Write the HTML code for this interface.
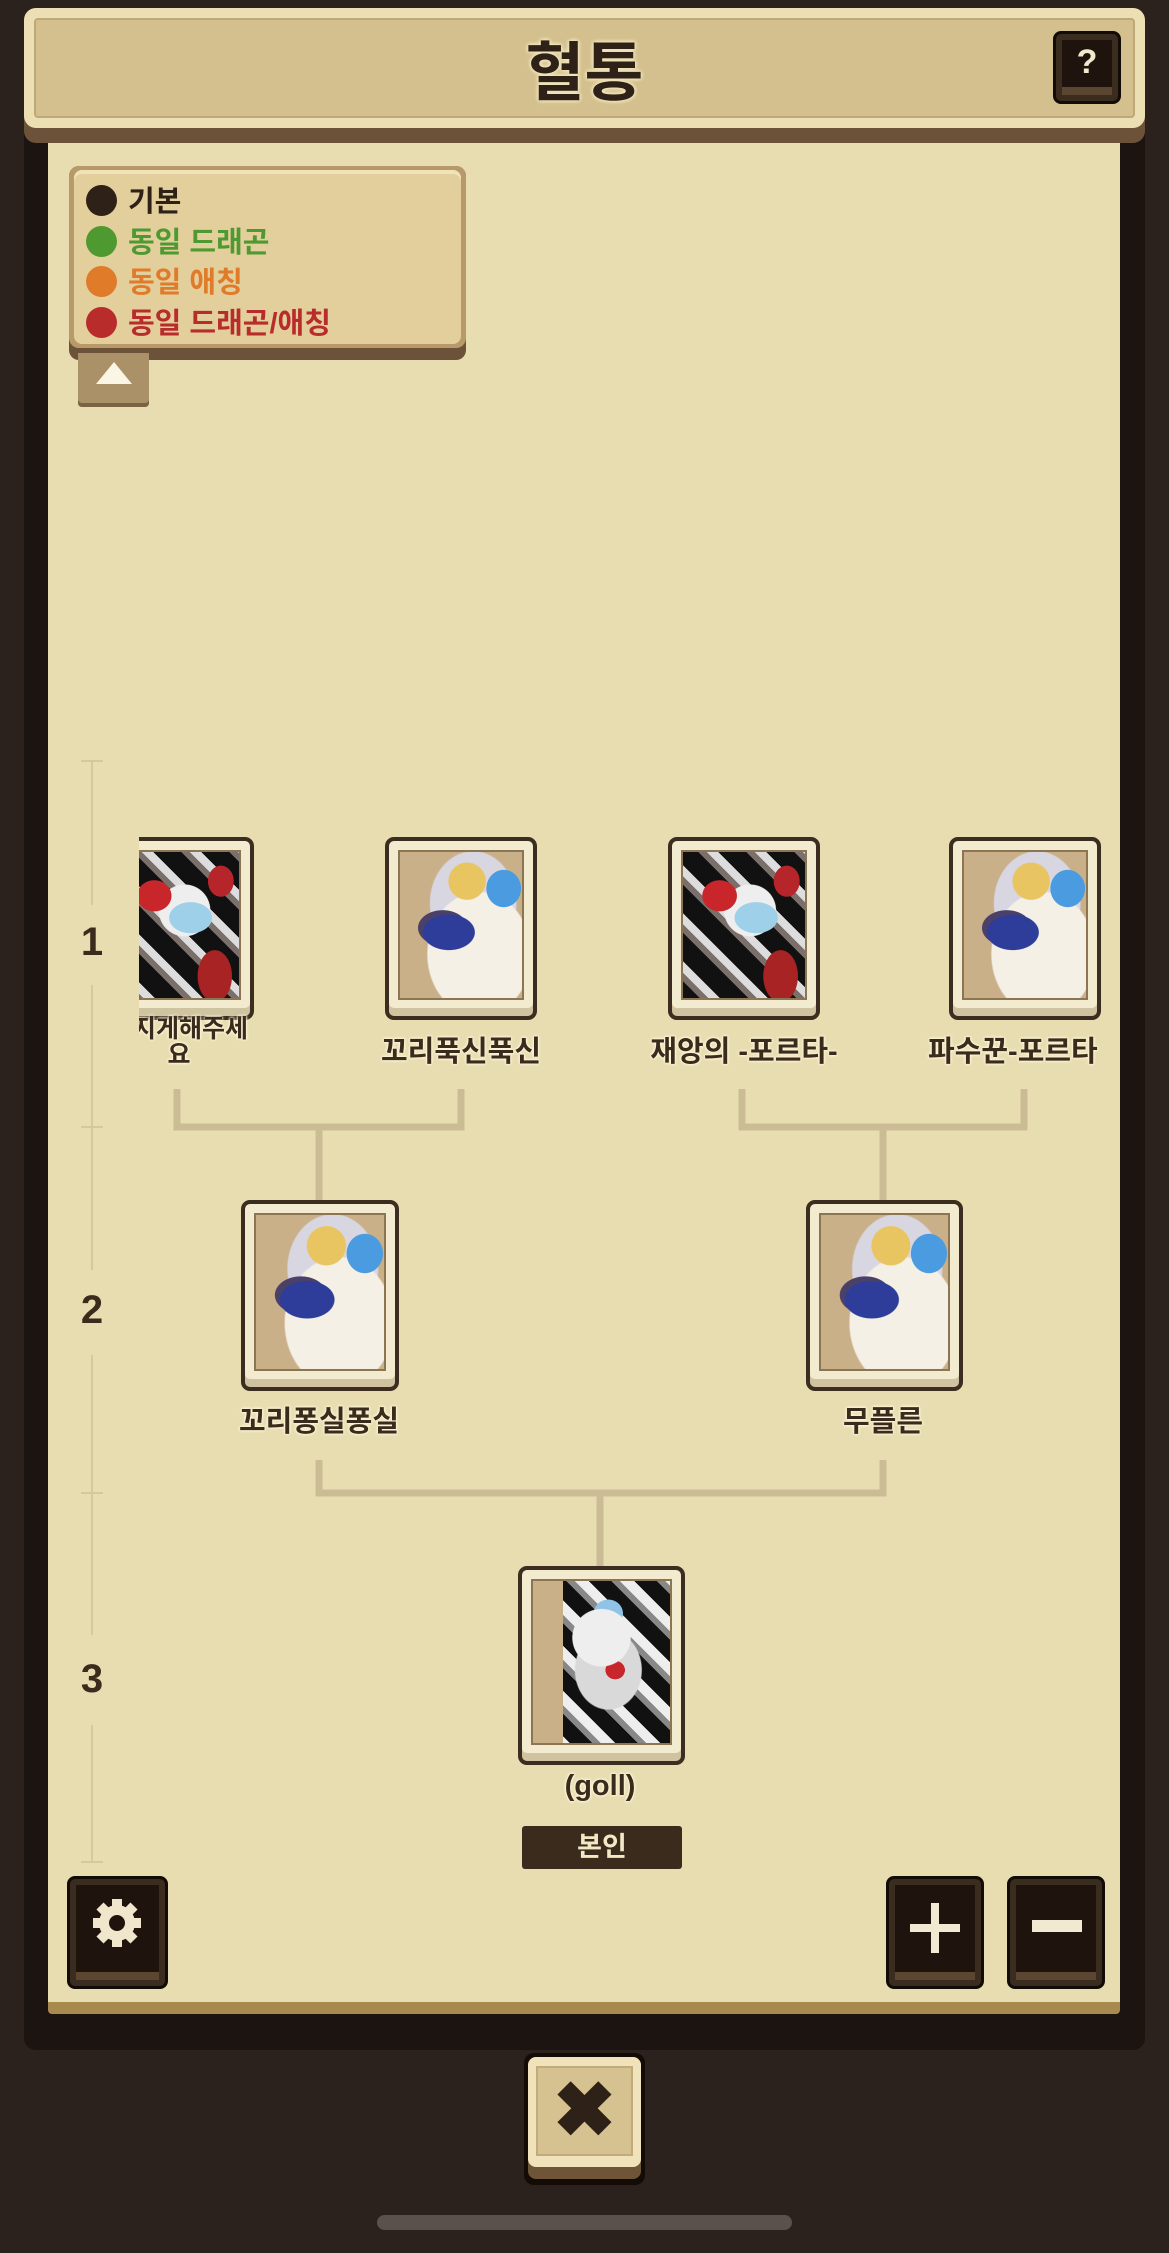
<!DOCTYPE html>
<html><head><meta charset="utf-8"><style>
*{margin:0;padding:0;box-sizing:border-box}
body{width:1169px;height:2253px;background:#2b211d;position:relative;overflow:hidden;font-family:"Liberation Sans","Noto Sans CJK KR",sans-serif}
.a{position:absolute}
.card{position:absolute;background:#f3ebcf;border:4px solid #3b2d1f;border-radius:9px;box-shadow:inset 0 -8px 0 #cfc3a0}
.card .img{position:absolute;left:9px;top:9px;right:9px;bottom:16px;background-color:#c9b089;border:2px solid #8c7552;overflow:hidden}
.lbl{position:absolute;font-weight:bold;color:#3a2b1d;text-align:center;font-size:29px;white-space:nowrap;text-shadow:0 0 3px #fff6da,0 0 3px #fff6da,0 0 2px #fff6da}
.card .img.light{background:
radial-gradient(ellipse 35% 20% at 40% 55%,#2f3d9a 0 60%,transparent 62%),
radial-gradient(ellipse 25% 15% at 35% 52%,#4a4068 0 80%,transparent 82%),
radial-gradient(ellipse 30% 25% at 55% 20%,#e8c560 0 50%,transparent 52%),
radial-gradient(ellipse 20% 18% at 85% 25%,#4a9be0 0 70%,transparent 72%),
radial-gradient(ellipse 60% 60% at 65% 70%,#f5f0e6 0 70%,transparent 72%),
radial-gradient(ellipse 50% 50% at 60% 35%,#d8d6e0 0 70%,transparent 72%),#c9b089}
.card .img.dark{background:
radial-gradient(ellipse 20% 15% at 30% 30%,#c8262a 0 70%,transparent 72%),
radial-gradient(ellipse 15% 15% at 85% 20%,#b5252a 0 70%,transparent 72%),
radial-gradient(ellipse 25% 15% at 60% 45%,#9fd0ea 0 70%,transparent 72%),
radial-gradient(ellipse 30% 25% at 55% 40%,#eeeeee 0 70%,transparent 72%),
radial-gradient(ellipse 20% 25% at 80% 85%,#a82424 0 70%,transparent 72%),
repeating-linear-gradient(45deg,#111 0 12px,#7a6f6a 12px 18px,#ddd 18px 26px,#111 26px 34px)}
.card .img.me{background:
radial-gradient(ellipse 30% 25% at 50% 35%,#eeeeee 0 70%,transparent 72%),
radial-gradient(ellipse 15% 12% at 55% 20%,#8fc4e6 0 70%,transparent 72%),
radial-gradient(ellipse 10% 8% at 60% 55%,#c8262a 0 70%,transparent 72%),
radial-gradient(ellipse 40% 40% at 55% 55%,#d9d9d9 0 60%,transparent 62%),
repeating-linear-gradient(45deg,#111 0 10px,#888 10px 16px,#eee 16px 26px,#111 26px 32px)}
.card .img.me::before{content:"";position:absolute;left:0;top:0;width:22%;height:100%;background:#c9b089}
.btn{position:absolute;background:#1e140d;border:3px solid #120b06;border-radius:8px;box-shadow:inset 0 0 0 6px #3a2c1f,inset 0 -14px 0 #5a4631}
</style></head><body>
<div class="a" style="left:24px;top:10px;width:1121px;height:2040px;background:#1c1410;border-radius:12px"></div>
<div class="a" style="left:48px;top:140px;width:1072px;height:1874px;background:#a88a4e;border-radius:4px"></div>
<div class="a" style="left:48px;top:140px;width:1072px;height:1862px;background:#e8ddb1"></div>
<div class="a" style="left:24px;top:8px;width:1121px;height:135px;background:#6b5238;border-radius:12px"></div>
<div class="a" style="left:24px;top:8px;width:1121px;height:120px;background:#ecdfb4;border-radius:12px"></div>
<div class="a" style="left:34px;top:18px;width:1101px;height:100px;background:#d3c08e;border:2px solid #bfa877;border-radius:4px"></div>
<div class="a" style="left:0;top:22px;width:1169px;text-align:center;font-size:64px;font-weight:bold;color:#2e2117;text-shadow:0 0 4px #f3e6bd,0 0 4px #f3e6bd,0 0 4px #f3e6bd">혈통</div>
<div class="btn" style="left:1053px;top:31px;width:68px;height:73px;text-align:center;color:#f2e8cd;font-size:34px;font-weight:bold;line-height:56px">?</div>
<div class="a" style="left:69px;top:166px;width:397px;height:194px;background:#6b5238;border-radius:10px"></div>
<div class="a" style="left:69px;top:166px;width:397px;height:182px;background:#b89a6a;border-radius:10px"></div>
<div class="a" style="left:74px;top:170px;width:387px;height:174px;background:#e2cf9c;border-radius:8px;box-shadow:inset 0 4px 0 #f0e2b9"></div>
<div class="a" style="left:78px;top:353px;width:71px;height:54px;background:#ab9168;border-radius:0 0 4px 4px;box-shadow:inset 0 -4px 0 #7a6244"></div>
<div class="a" style="left:96px;top:362px;width:0;height:0;border-left:18px solid transparent;border-right:18px solid transparent;border-bottom:22px solid #fbf5e6"></div>
<div class="a" style="left:86px;top:182px;font-size:29px;font-weight:bold;line-height:40.5px">
<div style="color:#2e2117"><span style="display:inline-block;width:31px;height:31px;border-radius:50%;background:#2e2117;vertical-align:-5px;margin-right:11px"></span>기본</div>
<div style="color:#4f9a30"><span style="display:inline-block;width:31px;height:31px;border-radius:50%;background:#4f9a30;vertical-align:-5px;margin-right:11px"></span>동일 드래곤</div>
<div style="color:#e07b2a"><span style="display:inline-block;width:31px;height:31px;border-radius:50%;background:#e07b2a;vertical-align:-5px;margin-right:11px"></span>동일 애칭</div>
<div style="color:#b92c2c"><span style="display:inline-block;width:31px;height:31px;border-radius:50%;background:#b92c2c;vertical-align:-5px;margin-right:11px"></span>동일 드래곤/애칭</div>
</div>
<svg class="a" style="left:0;top:0" width="1169" height="2253">
<g stroke="#d6c89e" stroke-width="2" fill="none">
<line x1="92" y1="761" x2="92" y2="905"/><line x1="92" y1="985" x2="92" y2="1270"/><line x1="92" y1="1355" x2="92" y2="1635"/><line x1="92" y1="1725" x2="92" y2="1862"/>
<line x1="81" y1="761" x2="103" y2="761"/><line x1="81" y1="1127" x2="103" y2="1127"/><line x1="81" y1="1493" x2="103" y2="1493"/><line x1="81" y1="1862" x2="103" y2="1862"/>
</g>
<g stroke="#cbbc95" stroke-width="7" fill="none">
<path d="M177 1089V1127H461V1089M319 1127V1200"/>
<path d="M742 1089V1127H1024V1089M883 1127V1200"/>
<path d="M319 1460V1493H883V1460M600 1493V1566"/>
</g>
</svg>
<div class="a" style="left:72px;top:920px;width:40px;text-align:center;font-size:40px;font-weight:bold;color:#3a2b1d">1</div>
<div class="a" style="left:72px;top:1288px;width:40px;text-align:center;font-size:40px;font-weight:bold;color:#3a2b1d">2</div>
<div class="a" style="left:72px;top:1657px;width:40px;text-align:center;font-size:40px;font-weight:bold;color:#3a2b1d">3</div>
<div class="a" style="left:139px;top:830px;width:130px;height:200px;overflow:hidden">
<div class="card" style="left:-36px;top:7px;width:151px;height:183px"><div class="img dark"></div></div></div>
<div class="a" style="left:139px;top:1010px;width:140px;height:70px;overflow:hidden">
<div class="lbl" style="left:-40px;top:6px;width:160px;font-size:25px;line-height:26px">관지게해주세<br>요</div></div>
<div class="card" style="left:385px;top:837px;width:152px;height:183px"><div class="img light"></div></div>
<div class="lbl" style="left:311px;top:1028px;width:300px">꼬리푹신푹신</div>
<div class="card" style="left:668px;top:837px;width:152px;height:183px"><div class="img dark"></div></div>
<div class="lbl" style="left:594px;top:1028px;width:300px">재앙의 -포르타-</div>
<div class="card" style="left:949px;top:837px;width:152px;height:183px"><div class="img light"></div></div>
<div class="a" style="left:910px;top:1020px;width:191px;height:50px;overflow:hidden"><div class="lbl" style="left:18px;top:8px">파수꾼-포르타</div></div>
<div class="card" style="left:241px;top:1200px;width:158px;height:191px"><div class="img light"></div></div>
<div class="lbl" style="left:169px;top:1398px;width:300px">꼬리퐁실퐁실</div>
<div class="card" style="left:806px;top:1200px;width:157px;height:191px"><div class="img light"></div></div>
<div class="lbl" style="left:733px;top:1398px;width:300px">무플른</div>
<div class="card" style="left:518px;top:1566px;width:167px;height:199px"><div class="img me"></div></div>
<div class="lbl" style="left:450px;top:1770px;width:300px">(goll)</div>
<div class="a" style="left:522px;top:1826px;width:160px;height:43px;background:#3a2b1d;border-radius:3px;color:#f3e8c6;font-size:27px;font-weight:bold;text-align:center;line-height:43px">본인</div>
<div class="btn" style="left:67px;top:1876px;width:101px;height:113px"></div>
<svg class="a" style="left:87px;top:1893px" width="60" height="60" viewBox="0 0 60 60"><g fill="#f0e6cc"><circle cx="30" cy="30" r="18"/><g stroke="#f0e6cc" stroke-width="10"><line x1="30" y1="6" x2="30" y2="54"/><line x1="6" y1="30" x2="54" y2="30"/><line x1="13" y1="13" x2="47" y2="47"/><line x1="47" y1="13" x2="13" y2="47"/></g></g><circle cx="30" cy="30" r="8" fill="#1e140d"/></svg>
<div class="btn" style="left:886px;top:1876px;width:98px;height:113px"></div>
<div class="a" style="left:931px;top:1903px;width:8px;height:50px;background:#f2e9d2"></div>
<div class="a" style="left:910px;top:1924px;width:50px;height:8px;background:#f2e9d2"></div>
<div class="btn" style="left:1007px;top:1876px;width:98px;height:113px"></div>
<div class="a" style="left:1032px;top:1920px;width:50px;height:12px;background:#f2e9d2"></div>
<div class="a" style="left:524px;top:2053px;width:121px;height:132px;background:#120b06;border-radius:10px"></div>
<div class="a" style="left:528px;top:2057px;width:113px;height:122px;background:#6e5538;border-radius:8px"></div>
<div class="a" style="left:528px;top:2057px;width:113px;height:110px;background:#f0e3bb;border-radius:8px"></div>
<div class="a" style="left:536px;top:2066px;width:97px;height:90px;background:#d6c190;border:2px solid #c2ab7a"></div>
<div class="a" style="left:526px;top:2068px;width:117px;text-align:center;font-size:76px;font-weight:bold;color:#2e2117;line-height:86px">✖</div>
<div class="a" style="left:377px;top:2215px;width:415px;height:15px;background:#5b514c;border-radius:8px"></div>
</body></html>
